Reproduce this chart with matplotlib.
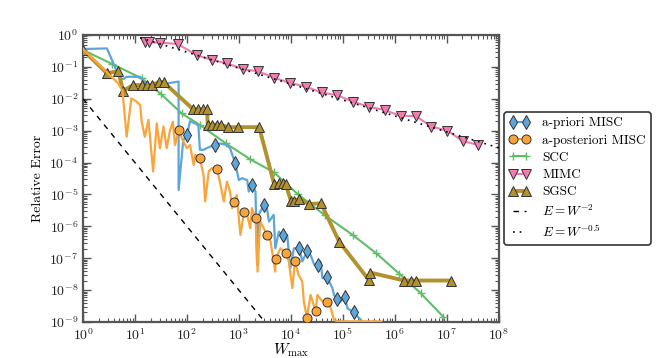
import numpy as np
import matplotlib
matplotlib.use("Agg")
import matplotlib.pyplot as plt

plt.rcParams['font.family'] = 'serif'
plt.rcParams['font.serif'] = ['cmr10', 'DejaVu Serif']
plt.rcParams['mathtext.fontset'] = 'cm'
plt.rcParams['axes.formatter.use_mathtext'] = True
plt.rcParams['axes.unicode_minus'] = False

# ---- data (log10 of W_max and log10 of relative error) ----
apriori_logW = [0, 0.46, 0.71, 0.78, 0.84, 1.10, 1.16, 1.29, 1.35, 1.61, 1.84, 1.84,
                1.93, 2.00, 2.06, 2.22, 2.25, 2.32, 2.38, 2.45, 2.54, 2.64, 2.77, 2.83,
                2.93, 3.00, 3.06, 3.16, 3.19, 3.26, 3.32, 3.35, 3.38, 3.48, 3.54, 3.58,
                3.67, 3.70, 3.77, 3.84, 3.87, 3.93, 3.99, 4.06, 4.16, 4.22, 4.32, 4.38,
                4.45, 4.53, 4.57, 4.61, 4.70, 4.80, 4.83, 4.89, 4.96, 5.04, 5.09, 5.21,
                5.25, 5.35, 5.38]
apriori_logE = [-0.44, -0.42, -1.36, -1.38, -1.31, -1.31, -1.45, -1.57, -1.57, -1.52, -1.46, -4.86,
                -3.30, -3.15, -2.70, -2.82, -3.60, -3.60, -3.55, -3.50, -3.45, -3.40, -3.45, -3.55,
                -4.02, -4.55, -4.49, -4.55, -4.91, -4.70, -4.91, -7.20, -5.64, -5.33, -5.43, -5.85,
                -5.64, -6.69, -6.17, -6.27, -6.48, -6.27, -7.31, -6.69, -6.67, -7.10, -6.76, -6.90,
                -7.20, -7.21, -7.10, -7.63, -7.60, -7.94, -8.15, -8.29, -8.36, -8.22, -8.57, -8.70,
                -8.78, -8.93, -9.05]
apriori_marks = [13, 20, 24, 29, 33, 39, 44, 46, 49, 52, 55, 57, 59]

apost_logW = [0, 0.68, 0.76, 0.84, 0.93, 1.03, 1.10, 1.13, 1.19, 1.26, 1.35, 1.42,
              1.48, 1.55, 1.61, 1.67, 1.73, 1.77, 1.84, 1.93, 2.00, 2.06, 2.13, 2.16,
              2.22, 2.25, 2.32, 2.35, 2.42, 2.48, 2.58, 2.64, 2.71, 2.77, 2.83, 2.87,
              2.90, 2.96, 3.03, 3.10, 3.16, 3.22, 3.25, 3.32, 3.36, 3.41, 3.48, 3.54,
              3.61, 3.70, 3.71, 3.80, 3.90, 3.96, 4.03, 4.08, 4.15, 4.22, 4.25, 4.31,
              4.38, 4.48, 4.51, 4.61, 4.70, 4.77, 4.83, 4.90, 5.20, 5.74]
apost_logE = [-0.44, -1.52, -1.75, -3.19, -1.99, -2.09, -2.19, -2.72, -3.19, -2.66, -4.28, -2.77,
              -3.55, -2.87, -3.55, -3.03, -2.72, -3.45, -2.98, -3.34, -3.55, -3.45, -4.08, -3.76,
              -3.87, -3.87, -4.39, -5.22, -4.28, -4.18, -4.20, -4.65, -5.22, -4.60, -4.91, -5.43,
              -5.25, -5.02, -6.27, -5.54, -5.64, -6.06, -5.43, -5.75, -7.42, -5.85, -6.06, -6.27,
              -6.48, -7.42, -7.02, -6.69, -6.84, -7.10, -7.94, -7.08, -7.52, -7.73, -8.36, -8.86,
              -8.15, -8.67, -8.15, -8.36, -8.36, -8.57, -8.93, -8.98, -8.98, -8.98]
apost_marks = [18, 25, 30, 36, 39, 43, 47, 50, 52, 55, 59, 61, 64]

scc_logW = [0, 0.55, 1.13, 1.50, 1.90, 2.25, 2.75, 3.22, 3.67, 4.14, 4.66, 5.19, 5.64, 6.09, 6.50, 6.93]
scc_logE = [-0.47, -0.90, -1.36, -1.85, -2.46, -2.82, -3.40, -3.90, -4.30, -5.00, -5.66, -6.27,
            -6.84, -7.49, -8.10, -8.83]

mimc_logW = [1.198, 1.275, 1.488, 1.823, 2.197, 2.487, 2.777, 3.072, 3.376, 3.678, 3.986, 4.284,
             4.593, 4.889, 5.192, 5.501, 5.803, 6.112, 6.402, 6.705, 7.014, 7.304, 7.608]
mimc_logE = [-0.23, -0.23, -0.24, -0.28, -0.64, -0.78, -0.89, -1.07, -1.14, -1.34, -1.50, -1.62,
             -1.80, -1.89, -2.09, -2.25, -2.35, -2.54, -2.54, -2.87, -3.00, -3.32, -3.45]

sgsc_logW = [0, 0.46, 0.68, 0.77, 0.97, 1.13, 1.23, 1.32, 1.46, 1.55, 2.12, 2.22, 2.31, 2.39,
             2.40, 2.49, 2.57, 2.65, 2.79, 2.98, 3.39, 3.68, 3.77, 3.84, 3.90, 4.00, 4.06, 4.16,
             4.35, 4.58, 4.93, 5.50, 5.53, 6.18, 6.31, 6.40, 7.08]
sgsc_logE = [-0.47, -1.20, -1.13, -1.75, -1.57, -1.57, -1.57, -1.57, -1.48, -1.48, -2.33, -2.33,
             -2.33, -2.33, -2.81, -2.81, -2.81, -2.82, -2.89, -2.89, -2.89, -4.68, -4.65, -4.65,
             -4.68, -5.19, -5.19, -5.15, -5.30, -5.28, -6.48, -7.68, -7.45, -7.70, -7.70, -7.70, -7.70]

ref2_W = [1.0, 10 ** 3.6]          # E = 1e-2 * W^-2
ref2_coef = 1e-2
ref05_W = [10 ** 1.1, 1e8]         # E = 2.9 * W^-0.5
ref05_coef = 2.9

labels = ['a-priori MISC', 'a-posteriori MISC', 'SCC', 'MIMC', 'SGSC',
          r'$E=W^{-2}$', r'$E=W^{-0.5}$']

c_blue, c_orange, c_green, c_pink, c_brown = '#5DA5DA', '#FAA43A', '#60BD68', '#F17CB0', '#B2912F'
edge = '#333333'

def p(v):
    return 10.0 ** np.asarray(v, dtype=float)

fig = plt.figure(figsize=(6.64, 3.58), dpi=100)
ax = fig.add_axes([0.125, 0.1006, 0.626, 0.8016])
ax.set_xscale('log')
ax.set_yscale('log')

ax.plot(p(apriori_logW), p(apriori_logE), color=c_blue, lw=1.6, marker='d', ms=7,
        mfc=c_blue, mec=edge, mew=0.7, markevery=apriori_marks, label=labels[0], zorder=3)
ax.plot(p(apost_logW), p(apost_logE), color=c_orange, lw=1.6, marker='o', ms=6.5,
        mfc=c_orange, mec=edge, mew=0.7, markevery=apost_marks, label=labels[1], zorder=4)
ax.plot(p(scc_logW), p(scc_logE), color=c_green, lw=1.5, marker='+', ms=6,
        mec=c_green, mew=1.0, label=labels[2], zorder=2)
ax.plot(p(mimc_logW), p(mimc_logE), color=c_pink, lw=1.5, marker='v', ms=6.5,
        mfc=c_pink, mec=edge, mew=0.7, label=labels[3], zorder=3)
ax.plot(p(sgsc_logW), p(sgsc_logE), color=c_brown, lw=2.8, marker='^', ms=7,
        mfc=c_brown, mec=edge, mew=0.7, label=labels[4], zorder=3)

w2 = np.array(ref2_W)
ax.plot(w2, ref2_coef * w2 ** -2.0, color='black', ls=(0, (4, 4)), lw=1.0, label=labels[5], zorder=5)
w05 = np.array(ref05_W)
ax.plot(w05, ref05_coef * w05 ** -0.5, color='black', ls=(0, (1, 3)), lw=1.2, label=labels[6], zorder=5)

ax.set_xlim(1, 1e8)
ax.set_ylim(1e-9, 1)
ax.set_xticks([10.0 ** k for k in range(0, 9)])
ax.set_yticks([10.0 ** k for k in range(-9, 1)])
ax.tick_params(which='both', direction='in', top=True, right=True, colors='#555555',
               labelcolor='#222222', labelsize=10)
ax.tick_params(which='major', length=6, width=1.0)
ax.tick_params(which='minor', length=3, width=0.8)
for s in ax.spines.values():
    s.set_color('#555555')
    s.set_linewidth(1.6)

ax.set_xlabel(r'$W_{\max}$', fontsize=11, labelpad=-1)
ax.set_ylabel('Relative Error', fontsize=10, labelpad=4)

leg = ax.legend(loc='center left', bbox_to_anchor=(1.0, 0.5), fontsize=9.5, fancybox=True,
                framealpha=1, edgecolor='#333333', handlelength=1.6, labelspacing=0.38,
                borderpad=0.4, handletextpad=0.9, borderaxespad=0.4, numpoints=2)
leg.get_frame().set_linewidth(1.2)

fig.savefig('out.png', dpi=100)
